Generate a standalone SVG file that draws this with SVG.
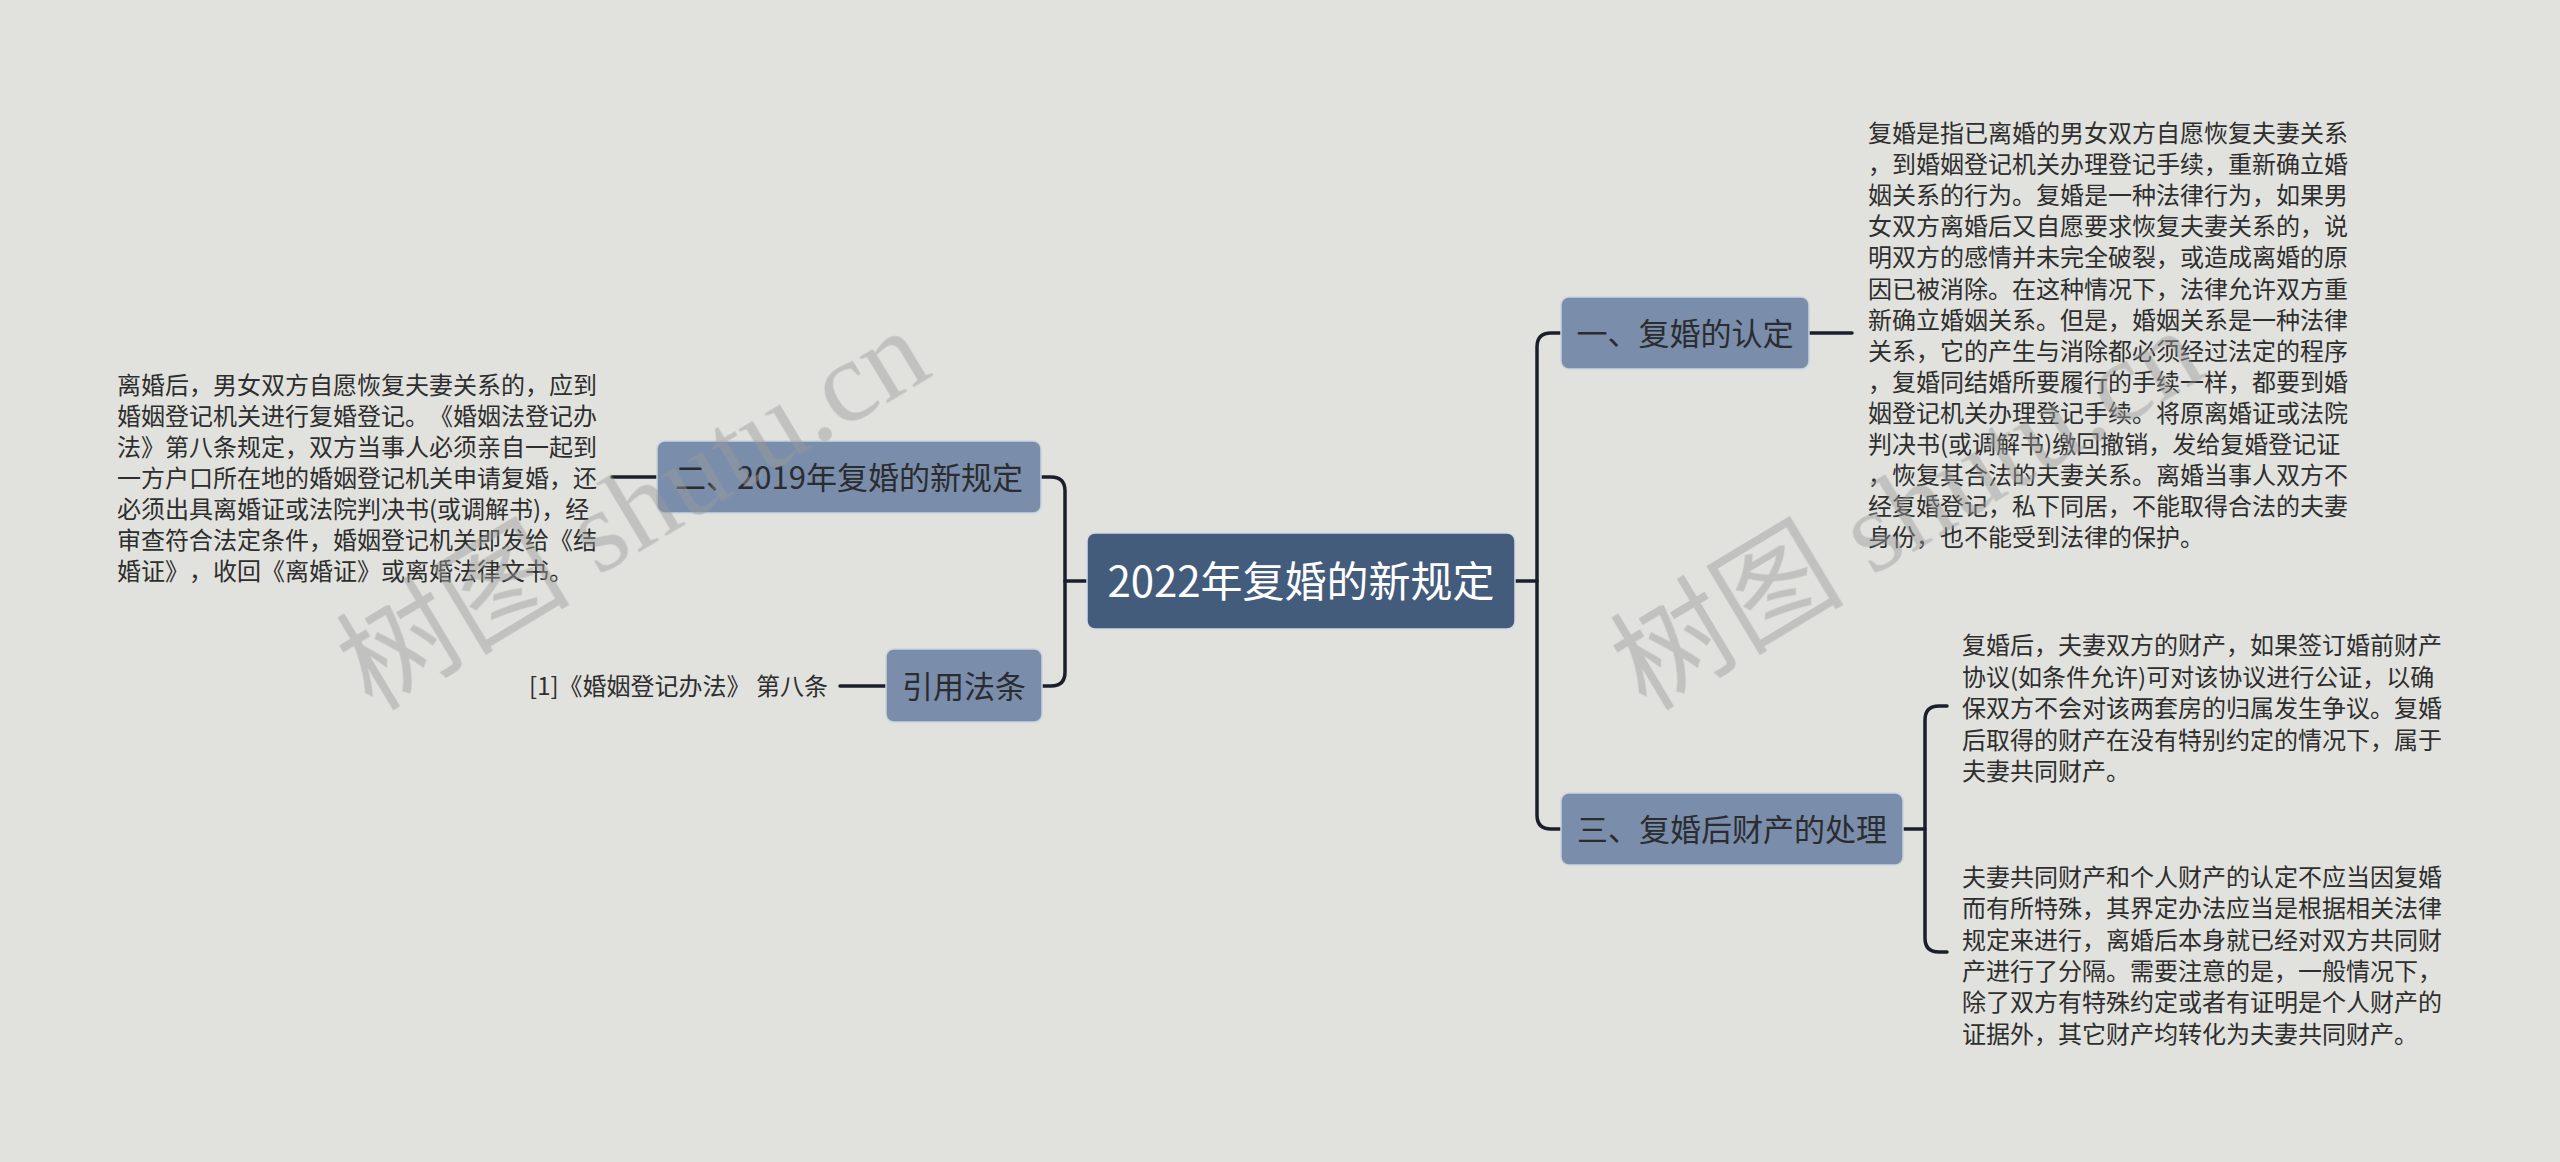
<svg xmlns="http://www.w3.org/2000/svg" width="2560" height="1162" viewBox="0 0 2560 1162">
<style>
.bg{fill:#e1e2dd}
.link{fill:none;stroke:#1b1f2b;stroke-width:3.5;stroke-linecap:round}
.root rect{fill:#445c7c;stroke:#d4dbe4;stroke-width:1.5}
.root text{fill:#ffffff;font-family:"Noto Sans CJK SC","Noto Sans",sans-serif;font-size:42px;text-anchor:middle}
.sub rect{fill:#7a8daa;stroke:#c9d2de;stroke-width:1.5}
.sub text{fill:#2a2c30;font-family:"Noto Sans CJK SC","Noto Sans",sans-serif;font-size:31px;text-anchor:middle}
.leaf text{fill:#2e2e2e;font-family:"Noto Sans CJK SC","Noto Sans",sans-serif;font-size:24px;text-spacing-trim:space-all}
.wm{fill:#9a9a9a;opacity:0.45;font-size:117px}
.wm .cjk{font-family:"Noto Sans CJK SC",sans-serif}
.wm .lat{font-family:"Liberation Serif",serif}
</style>
<rect class="bg" x="0" y="0" width="2560" height="1162"/>

<g id="connectors">
<path class="link" d="M1087,581 H1065"/>
<path class="link" d="M1041,477 H1051 Q1065,477 1065,491 V672 Q1065,686 1051,686 H1042"/>
<path class="link" d="M1515,581 H1537"/>
<path class="link" d="M1561,333 H1551 Q1537,333 1537,347 V815 Q1537,829 1551,829 H1561"/>
<path class="link" d="M1809,333 H1852"/>
<path class="link" d="M612,477 H657"/>
<path class="link" d="M840,686 H886"/>
<path class="link" d="M1903,829 H1925"/>
<path class="link" d="M1947,706 H1939 Q1925,706 1925,720 V938 Q1925,952 1939,952 H1947"/>
</g>

<g id="root" class="root">
<rect x="1087" y="533" width="428" height="96" rx="8"/>
<text x="1301" y="597">2022年复婚的新规定</text>
</g>

<g id="node-1" class="sub">
<rect x="1561" y="297" width="248" height="72" rx="8"/>
<text x="1685" y="345">一、复婚的认定</text>
</g>

<g id="node-2" class="sub">
<rect x="657" y="441" width="384" height="72" rx="8"/>
<text x="849" y="489">二、2019年复婚的新规定</text>
</g>

<g id="node-cite" class="sub">
<rect x="886" y="649" width="156" height="73" rx="8"/>
<text x="964" y="698">引用法条</text>
</g>

<g id="node-3" class="sub">
<rect x="1561" y="793" width="342" height="72" rx="8"/>
<text x="1732" y="841">三、复婚后财产的处理</text>
</g>

<g id="leaf-1" class="leaf">
<text x="1868" y="142">复婚是指已离婚的男女双方自愿恢复夫妻关系</text>
<text x="1868" y="173.1">，到婚姻登记机关办理登记手续，重新确立婚</text>
<text x="1868" y="204.2">姻关系的行为。复婚是一种法律行为，如果男</text>
<text x="1868" y="235.3">女双方离婚后又自愿要求恢复夫妻关系的，说</text>
<text x="1868" y="266.4">明双方的感情并未完全破裂，或造成离婚的原</text>
<text x="1868" y="297.5">因已被消除。在这种情况下，法律允许双方重</text>
<text x="1868" y="328.6">新确立婚姻关系。但是，婚姻关系是一种法律</text>
<text x="1868" y="359.7">关系，它的产生与消除都必须经过法定的程序</text>
<text x="1868" y="390.8">，复婚同结婚所要履行的手续一样，都要到婚</text>
<text x="1868" y="421.9">姻登记机关办理登记手续。将原离婚证或法院</text>
<text x="1868" y="453">判决书(或调解书)缴回撤销，发给复婚登记证</text>
<text x="1868" y="484.1">，恢复其合法的夫妻关系。离婚当事人双方不</text>
<text x="1868" y="515.2">经复婚登记，私下同居，不能取得合法的夫妻</text>
<text x="1868" y="546.3">身份，也不能受到法律的保护。</text>
</g>

<g id="leaf-2" class="leaf">
<text x="117" y="394">离婚后，男女双方自愿恢复夫妻关系的，应到</text>
<text x="117" y="425">婚姻登记机关进行复婚登记。《婚姻法登记办</text>
<text x="117" y="456">法》第八条规定，双方当事人必须亲自一起到</text>
<text x="117" y="487">一方户口所在地的婚姻登记机关申请复婚，还</text>
<text x="117" y="518">必须出具离婚证或法院判决书(或调解书)，经</text>
<text x="117" y="549">审查符合法定条件，婚姻登记机关即发给《结</text>
<text x="117" y="580">婚证》，收回《离婚证》或离婚法律文书。</text>
</g>

<g id="leaf-cite" class="leaf">
<text x="828" y="695" text-anchor="end">[1]《婚姻登记办法》 第八条</text>
</g>

<g id="leaf-3a" class="leaf">
<text x="1962" y="654">复婚后，夫妻双方的财产，如果签订婚前财产</text>
<text x="1962" y="685.5">协议(如条件允许)可对该协议进行公证，以确</text>
<text x="1962" y="717">保双方不会对该两套房的归属发生争议。复婚</text>
<text x="1962" y="748.5">后取得的财产在没有特别约定的情况下，属于</text>
<text x="1962" y="780">夫妻共同财产。</text>
</g>

<g id="leaf-3b" class="leaf">
<text x="1962" y="886">夫妻共同财产和个人财产的认定不应当因复婚</text>
<text x="1962" y="917.3">而有所特殊，其界定办法应当是根据相关法律</text>
<text x="1962" y="948.6">规定来进行，离婚后本身就已经对双方共同财</text>
<text x="1962" y="979.9">产进行了分隔。需要注意的是，一般情况下，</text>
<text x="1962" y="1011.2">除了双方有特殊约定或者有证明是个人财产的</text>
<text x="1962" y="1042.5">证据外，其它财产均转化为夫妻共同财产。</text>
</g>

<g id="watermarks" class="wm">
<text transform="translate(372,712) rotate(-31)"><tspan class="cjk">树图</tspan><tspan class="lat"> shutu.cn</tspan></text>
<text transform="translate(1646,712) rotate(-31)"><tspan class="cjk">树图</tspan><tspan class="lat"> shutu.cn</tspan></text>
</g>
</svg>
